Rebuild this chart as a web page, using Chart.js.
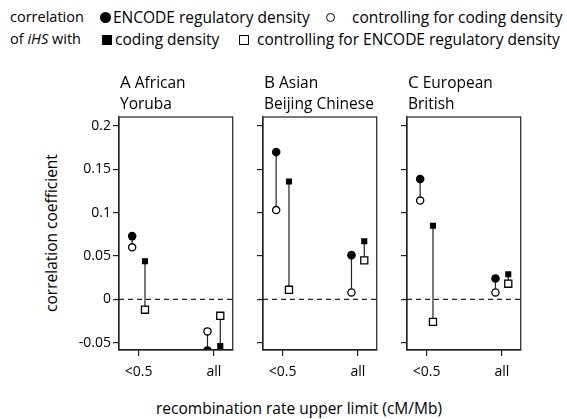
<!DOCTYPE html>
<html>
<head>
<meta charset="utf-8">
<script src="https://cdn.jsdelivr.net/npm/chart.js@4.4.0/dist/chart.umd.min.js"></script>
<style>
  body { margin: 0; background: #fff; width: 567px; height: 419px; position: relative; overflow: hidden;
         font-family: 'Open Sans', sans-serif; color: #000; }
  .t { position: absolute; white-space: nowrap; font-size: 15.5px; line-height: 20px; }
  .mk { position: absolute; box-sizing: border-box; }
  canvas { position: absolute; }
</style>
</head>
<body>

<div class="t" style="left:10px; top:7px; font-size:14.5px;">correlation</div>
<div class="t" style="left:10px; top:29px; font-size:14.5px;">of <i>iHS</i> with</div>

<div class="mk" style="left:100px; top:12px; width:11px; height:11px; border-radius:50%; background:#000;"></div>
<div class="t" style="left:113px; top:7px;">ENCODE regulatory density</div>
<div class="mk" style="left:326px; top:13px; width:9px; height:9px; border-radius:50%; border:1.3px solid #000;"></div>
<div class="t" style="left:352px; top:7px;">controlling for coding density</div>

<div class="mk" style="left:102px; top:35px; width:10px; height:10px; background:#000;"></div>
<div class="t" style="left:115px; top:29px;">coding density</div>
<div class="mk" style="left:239px; top:35px; width:10px; height:10px; border:1.3px solid #000;"></div>
<div class="t" style="left:257px; top:29px;">controlling for ENCODE regulatory density</div>

<div class="t" style="left:-49px; top:223px; width:200px; text-align:center; transform:rotate(-90deg);">correlation coefficient</div>
<div class="t" style="left:99px; top:398px; width:400px; text-align:center;">recombination rate upper limit (cM/Mb)</div>

<script>
// x categories and y ticks
const categories = ['<0.5', 'all'];
const yTickValues = [-0.05, 0, 0.05, 0.1, 0.15, 0.2];
const yTickLabels = ['-0.05', '0', '0.05', '0.1', '0.15', '0.2'];

// panel headings
const panelLetters = ['A', 'B', 'C'];
const panelRegions = ['African', 'Asian', 'European'];
const panelPops = ['Yoruba', 'Beijing Chinese', 'British'];

// A African / Yoruba
const encodeA     = [0.073, -0.059];
const encodeCtrlA = [0.060, -0.037];
const codingA     = [0.044, -0.054];
const codingCtrlA = [-0.012, -0.019];

// B Asian / Beijing Chinese
const encodeB     = [0.170, 0.051];
const encodeCtrlB = [0.103, 0.008];
const codingB     = [0.136, 0.067];
const codingCtrlB = [0.011, 0.045];

// C European / British
const encodeC     = [0.139, 0.024];
const encodeCtrlC = [0.114, 0.008];
const codingC     = [0.085, 0.029];
const codingCtrlC = [-0.026, 0.018];

// layout (px)
const boxLefts = [119, 263, 407];
const boxW = 116, boxTop = 117, boxBottom = 350;
const axisW = 60, canvasTop = 100, canvasH = 300;
const shift = 0.085;   // circles left of the tick, squares right of it
const ink = '#222';
const tickFont = { family: "'Open Sans', sans-serif", size: 14 };

function points(arr, dx) {
  return arr.map((v, i) => ({ x: i + 1 + dx, y: v }));
}

function stems(a, b, dx) {
  let d = [];
  a.forEach((v, i) => {
    d.push({ x: i + 1 + dx, y: v }, { x: i + 1 + dx, y: b[i] }, { x: i + 1 + dx, y: null });
  });
  return d;
}

const framePlugin = {
  id: 'frame',
  beforeDatasetsDraw(chart) {
    let ctx = chart.ctx, a = chart.chartArea;
    let y0 = chart.scales.y.getPixelForValue(0);
    ctx.save();
    ctx.strokeStyle = ink;
    ctx.lineWidth = 1.2;
    ctx.setLineDash([5, 4]);
    ctx.beginPath();
    ctx.moveTo(a.left, y0);
    ctx.lineTo(a.right, y0);
    ctx.stroke();
    ctx.restore();
  },
  afterDatasetsDraw(chart) {
    let ctx = chart.ctx, a = chart.chartArea;
    ctx.save();
    ctx.strokeStyle = ink;
    ctx.lineWidth = 1.2;
    ctx.strokeRect(a.left, a.top, a.right - a.left, a.bottom - a.top);
    ctx.restore();
  }
};

function makePanel(idx, encode, encodeCtrl, coding, codingCtrl) {
  let w = axisW + boxW + 4;
  let cv = document.createElement('canvas');
  cv.width = w;
  cv.height = canvasH;
  cv.style.left = (boxLefts[idx] - axisW) + 'px';
  cv.style.top = canvasTop + 'px';
  cv.style.width = w + 'px';
  cv.style.height = canvasH + 'px';
  document.body.appendChild(cv);

  // heading
  let h = document.createElement('div');
  h.className = 't';
  h.style.left = (boxLefts[idx] + 1) + 'px';
  h.style.top = '71px';
  h.style.lineHeight = '21px';
  h.innerHTML = '<span style="font-size:17px">' + panelLetters[idx] + '</span> ' + panelRegions[idx] +
                '<br>' + panelPops[idx];
  document.body.appendChild(h);

  new Chart(cv.getContext('2d'), {
    type: 'scatter',
    data: {
      datasets: [
        { data: points(encode, -shift), pointStyle: 'circle', pointRadius: 4.3, pointBorderWidth: 0,
          pointBackgroundColor: '#000', pointBorderColor: '#000', order: 1, clip: 0 },
        { data: points(encodeCtrl, -shift), pointStyle: 'circle', pointRadius: 3.6, pointBorderWidth: 1.3,
          pointBackgroundColor: '#fff', pointBorderColor: '#000', order: 1, clip: 0 },
        { data: points(coding, shift), pointStyle: 'rect', pointRadius: 4.3, pointBorderWidth: 0,
          pointBackgroundColor: '#000', pointBorderColor: '#000', order: 1, clip: 0 },
        { data: points(codingCtrl, shift), pointStyle: 'rect', pointRadius: 5, pointBorderWidth: 1.3,
          pointBackgroundColor: '#fff', pointBorderColor: '#000', order: 1, clip: 0 },
        { data: stems(encode, encodeCtrl, -shift), showLine: true, spanGaps: false, pointRadius: 0,
          borderColor: ink, borderWidth: 1.2, order: 10, clip: 0 },
        { data: stems(coding, codingCtrl, shift), showLine: true, spanGaps: false, pointRadius: 0,
          borderColor: ink, borderWidth: 1.2, order: 10, clip: 0 }
      ]
    },
    options: {
      responsive: false,
      animation: false,
      events: [],
      layout: { padding: { top: boxTop - canvasTop, right: 4, left: 0, bottom: 0 } },
      plugins: { legend: { display: false }, tooltip: { enabled: false } },
      scales: {
        x: {
          type: 'linear', min: 0.74, max: 2.25,
          afterBuildTicks: s => { s.ticks = categories.map((c, i) => ({ value: i + 1 })); },
          afterFit: s => { s.height = canvasTop + canvasH - boxBottom; },
          ticks: { callback: (v, i) => categories[i], font: tickFont, color: '#000', padding: 8,
                   maxRotation: 0, autoSkip: false },
          grid: { drawOnChartArea: false, drawTicks: true, tickLength: 6, color: ink, lineWidth: 1.2 },
          border: { display: true, color: ink, width: 1.2 }
        },
        y: {
          type: 'linear', min: -0.0585, max: 0.2105,
          afterBuildTicks: s => { s.ticks = yTickValues.map(v => ({ value: v })); },
          afterFit: s => { s.width = axisW; },
          ticks: { callback: (v, i) => idx === 0 ? yTickLabels[i] : '', font: tickFont, color: '#000',
                   padding: 2, autoSkip: false },
          grid: { drawOnChartArea: false, drawTicks: true, tickLength: 6, color: ink, lineWidth: 1.2 },
          border: { display: true, color: ink, width: 1.2 }
        }
      }
    },
    plugins: [framePlugin]
  });
}

makePanel(0, encodeA, encodeCtrlA, codingA, codingCtrlA);
makePanel(1, encodeB, encodeCtrlB, codingB, codingCtrlB);
makePanel(2, encodeC, encodeCtrlC, codingC, codingCtrlC);
</script>
</body>
</html>
